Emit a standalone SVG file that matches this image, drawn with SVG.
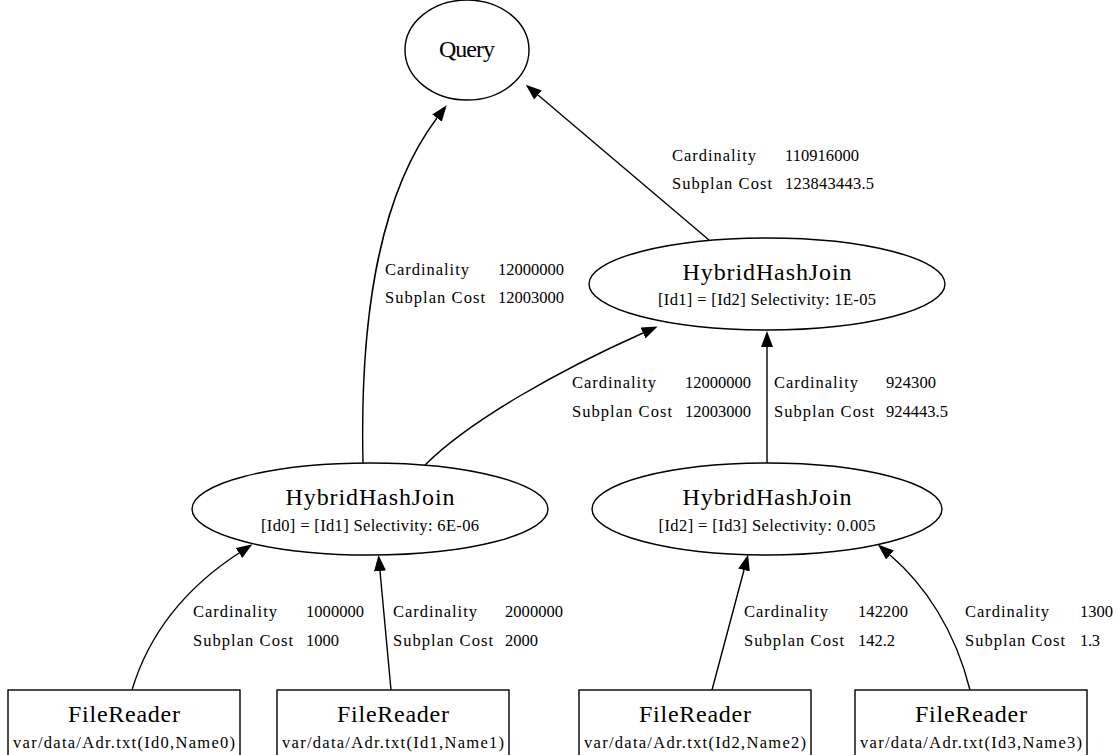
<svg xmlns="http://www.w3.org/2000/svg" width="1117" height="755" viewBox="0 0 1117 755">
<style>
.shape{fill:#fff;stroke:#000;stroke-width:1.4}
.edge{fill:none;stroke:#000;stroke-width:1.4}
text{font-family:"Liberation Serif","Times New Roman",serif;fill:#000}
.title{font-size:24px;text-anchor:middle}
.sub{font-size:16.5px;text-anchor:middle}
.lbl{font-size:16.5px}
</style>
<defs>
<marker id="arr" markerUnits="userSpaceOnUse" markerWidth="16" markerHeight="12" viewBox="0 0 16 12" refX="0" refY="6" orient="auto">
<path d="M0,0 L16,6 L0,12 z" fill="#000"/>
</marker>
</defs>
<rect width="1117" height="755" fill="#fff"/>
<g id="connectors">
<path class="edge" marker-end="url(#arr)" d="M709,240 L538,95"/>
<path class="edge" marker-end="url(#arr)" d="M363,463 C360,330 375,200 437,118"/>
<path class="edge" marker-end="url(#arr)" d="M425,465 C470,420 560,370 643,333"/>
<path class="edge" marker-end="url(#arr)" d="M767,463 L767,347"/>
<path class="edge" marker-end="url(#arr)" d="M132,690 C150,630 190,585 239,553"/>
<path class="edge" marker-end="url(#arr)" d="M391,690 L380,571"/>
<path class="edge" marker-end="url(#arr)" d="M712,690 L744,570"/>
<path class="edge" marker-end="url(#arr)" d="M970,690 C955,630 925,585 890,555"/>
<g id="edge-labels">
<text class="lbl" x="672" y="161" textLength="84" lengthAdjust="spacing">Cardinality</text>
<text class="lbl" x="785" y="161" textLength="74" lengthAdjust="spacing">110916000</text>
<text class="lbl" x="672" y="189" textLength="100" lengthAdjust="spacing">Subplan Cost</text>
<text class="lbl" x="785" y="189" textLength="89" lengthAdjust="spacing">123843443.5</text>

<text class="lbl" x="385" y="275" textLength="84" lengthAdjust="spacing">Cardinality</text>
<text class="lbl" x="498" y="275" textLength="66" lengthAdjust="spacing">12000000</text>
<text class="lbl" x="385" y="303" textLength="100" lengthAdjust="spacing">Subplan Cost</text>
<text class="lbl" x="498" y="303" textLength="66" lengthAdjust="spacing">12003000</text>

<text class="lbl" x="572" y="388" textLength="84" lengthAdjust="spacing">Cardinality</text>
<text class="lbl" x="685" y="388" textLength="66" lengthAdjust="spacing">12000000</text>
<text class="lbl" x="572" y="417" textLength="100" lengthAdjust="spacing">Subplan Cost</text>
<text class="lbl" x="685" y="417" textLength="66" lengthAdjust="spacing">12003000</text>

<text class="lbl" x="774" y="388" textLength="84" lengthAdjust="spacing">Cardinality</text>
<text class="lbl" x="886" y="388" textLength="50" lengthAdjust="spacing">924300</text>
<text class="lbl" x="774" y="417" textLength="100" lengthAdjust="spacing">Subplan Cost</text>
<text class="lbl" x="886" y="417" textLength="62" lengthAdjust="spacing">924443.5</text>

<text class="lbl" x="193" y="617" textLength="84" lengthAdjust="spacing">Cardinality</text>
<text class="lbl" x="306" y="617" textLength="58" lengthAdjust="spacing">1000000</text>
<text class="lbl" x="193" y="646" textLength="100" lengthAdjust="spacing">Subplan Cost</text>
<text class="lbl" x="306" y="646" textLength="33" lengthAdjust="spacing">1000</text>

<text class="lbl" x="393" y="617" textLength="84" lengthAdjust="spacing">Cardinality</text>
<text class="lbl" x="505" y="617" textLength="58" lengthAdjust="spacing">2000000</text>
<text class="lbl" x="393" y="646" textLength="100" lengthAdjust="spacing">Subplan Cost</text>
<text class="lbl" x="505" y="646" textLength="33" lengthAdjust="spacing">2000</text>

<text class="lbl" x="744" y="617" textLength="84" lengthAdjust="spacing">Cardinality</text>
<text class="lbl" x="858" y="617" textLength="50" lengthAdjust="spacing">142200</text>
<text class="lbl" x="744" y="646" textLength="100" lengthAdjust="spacing">Subplan Cost</text>
<text class="lbl" x="858" y="646" textLength="37" lengthAdjust="spacing">142.2</text>

<text class="lbl" x="965" y="617" textLength="84" lengthAdjust="spacing">Cardinality</text>
<text class="lbl" x="1080" y="617" textLength="33" lengthAdjust="spacing">1300</text>
<text class="lbl" x="965" y="646" textLength="100" lengthAdjust="spacing">Subplan Cost</text>
<text class="lbl" x="1080" y="646" textLength="20" lengthAdjust="spacing">1.3</text>
</g>
</g>
<g id="query">
<ellipse class="shape" cx="467" cy="50" rx="62" ry="50"/>
<text class="title" x="467" y="57" textLength="56" lengthAdjust="spacing">Query</text>
</g>
<g id="join-top">
<ellipse class="shape" cx="767" cy="284" rx="178" ry="46"/>
<text class="title" x="767" y="280" textLength="169" lengthAdjust="spacing">HybridHashJoin</text>
<text class="sub" x="767" y="305" textLength="218" lengthAdjust="spacing">[Id1] = [Id2] Selectivity: 1E-05</text>
</g>
<g id="join-left">
<ellipse class="shape" cx="370" cy="509" rx="178" ry="46"/>
<text class="title" x="370" y="505" textLength="169" lengthAdjust="spacing">HybridHashJoin</text>
<text class="sub" x="370" y="531" textLength="218" lengthAdjust="spacing">[Id0] = [Id1] Selectivity: 6E-06</text>
</g>
<g id="join-right">
<ellipse class="shape" cx="767" cy="509" rx="175" ry="46"/>
<text class="title" x="767" y="505" textLength="169" lengthAdjust="spacing">HybridHashJoin</text>
<text class="sub" x="767" y="531" textLength="217" lengthAdjust="spacing">[Id2] = [Id3] Selectivity: 0.005</text>
</g>
<g id="reader0">
<rect class="shape" x="8" y="690" width="232" height="80"/>
<text class="title" x="124" y="722" textLength="112" lengthAdjust="spacing">FileReader</text>
<text class="sub" x="124" y="748" textLength="222" lengthAdjust="spacing">var/data/Adr.txt(Id0,Name0)</text>
</g>
<g id="reader1">
<rect class="shape" x="277" y="690" width="232" height="80"/>
<text class="title" x="393" y="722" textLength="112" lengthAdjust="spacing">FileReader</text>
<text class="sub" x="393" y="748" textLength="222" lengthAdjust="spacing">var/data/Adr.txt(Id1,Name1)</text>
</g>
<g id="reader2">
<rect class="shape" x="579" y="690" width="232" height="80"/>
<text class="title" x="695" y="722" textLength="112" lengthAdjust="spacing">FileReader</text>
<text class="sub" x="695" y="748" textLength="222" lengthAdjust="spacing">var/data/Adr.txt(Id2,Name2)</text>
</g>
<g id="reader3">
<rect class="shape" x="855" y="690" width="232" height="80"/>
<text class="title" x="971" y="722" textLength="112" lengthAdjust="spacing">FileReader</text>
<text class="sub" x="971" y="748" textLength="222" lengthAdjust="spacing">var/data/Adr.txt(Id3,Name3)</text>
</g>
</svg>
